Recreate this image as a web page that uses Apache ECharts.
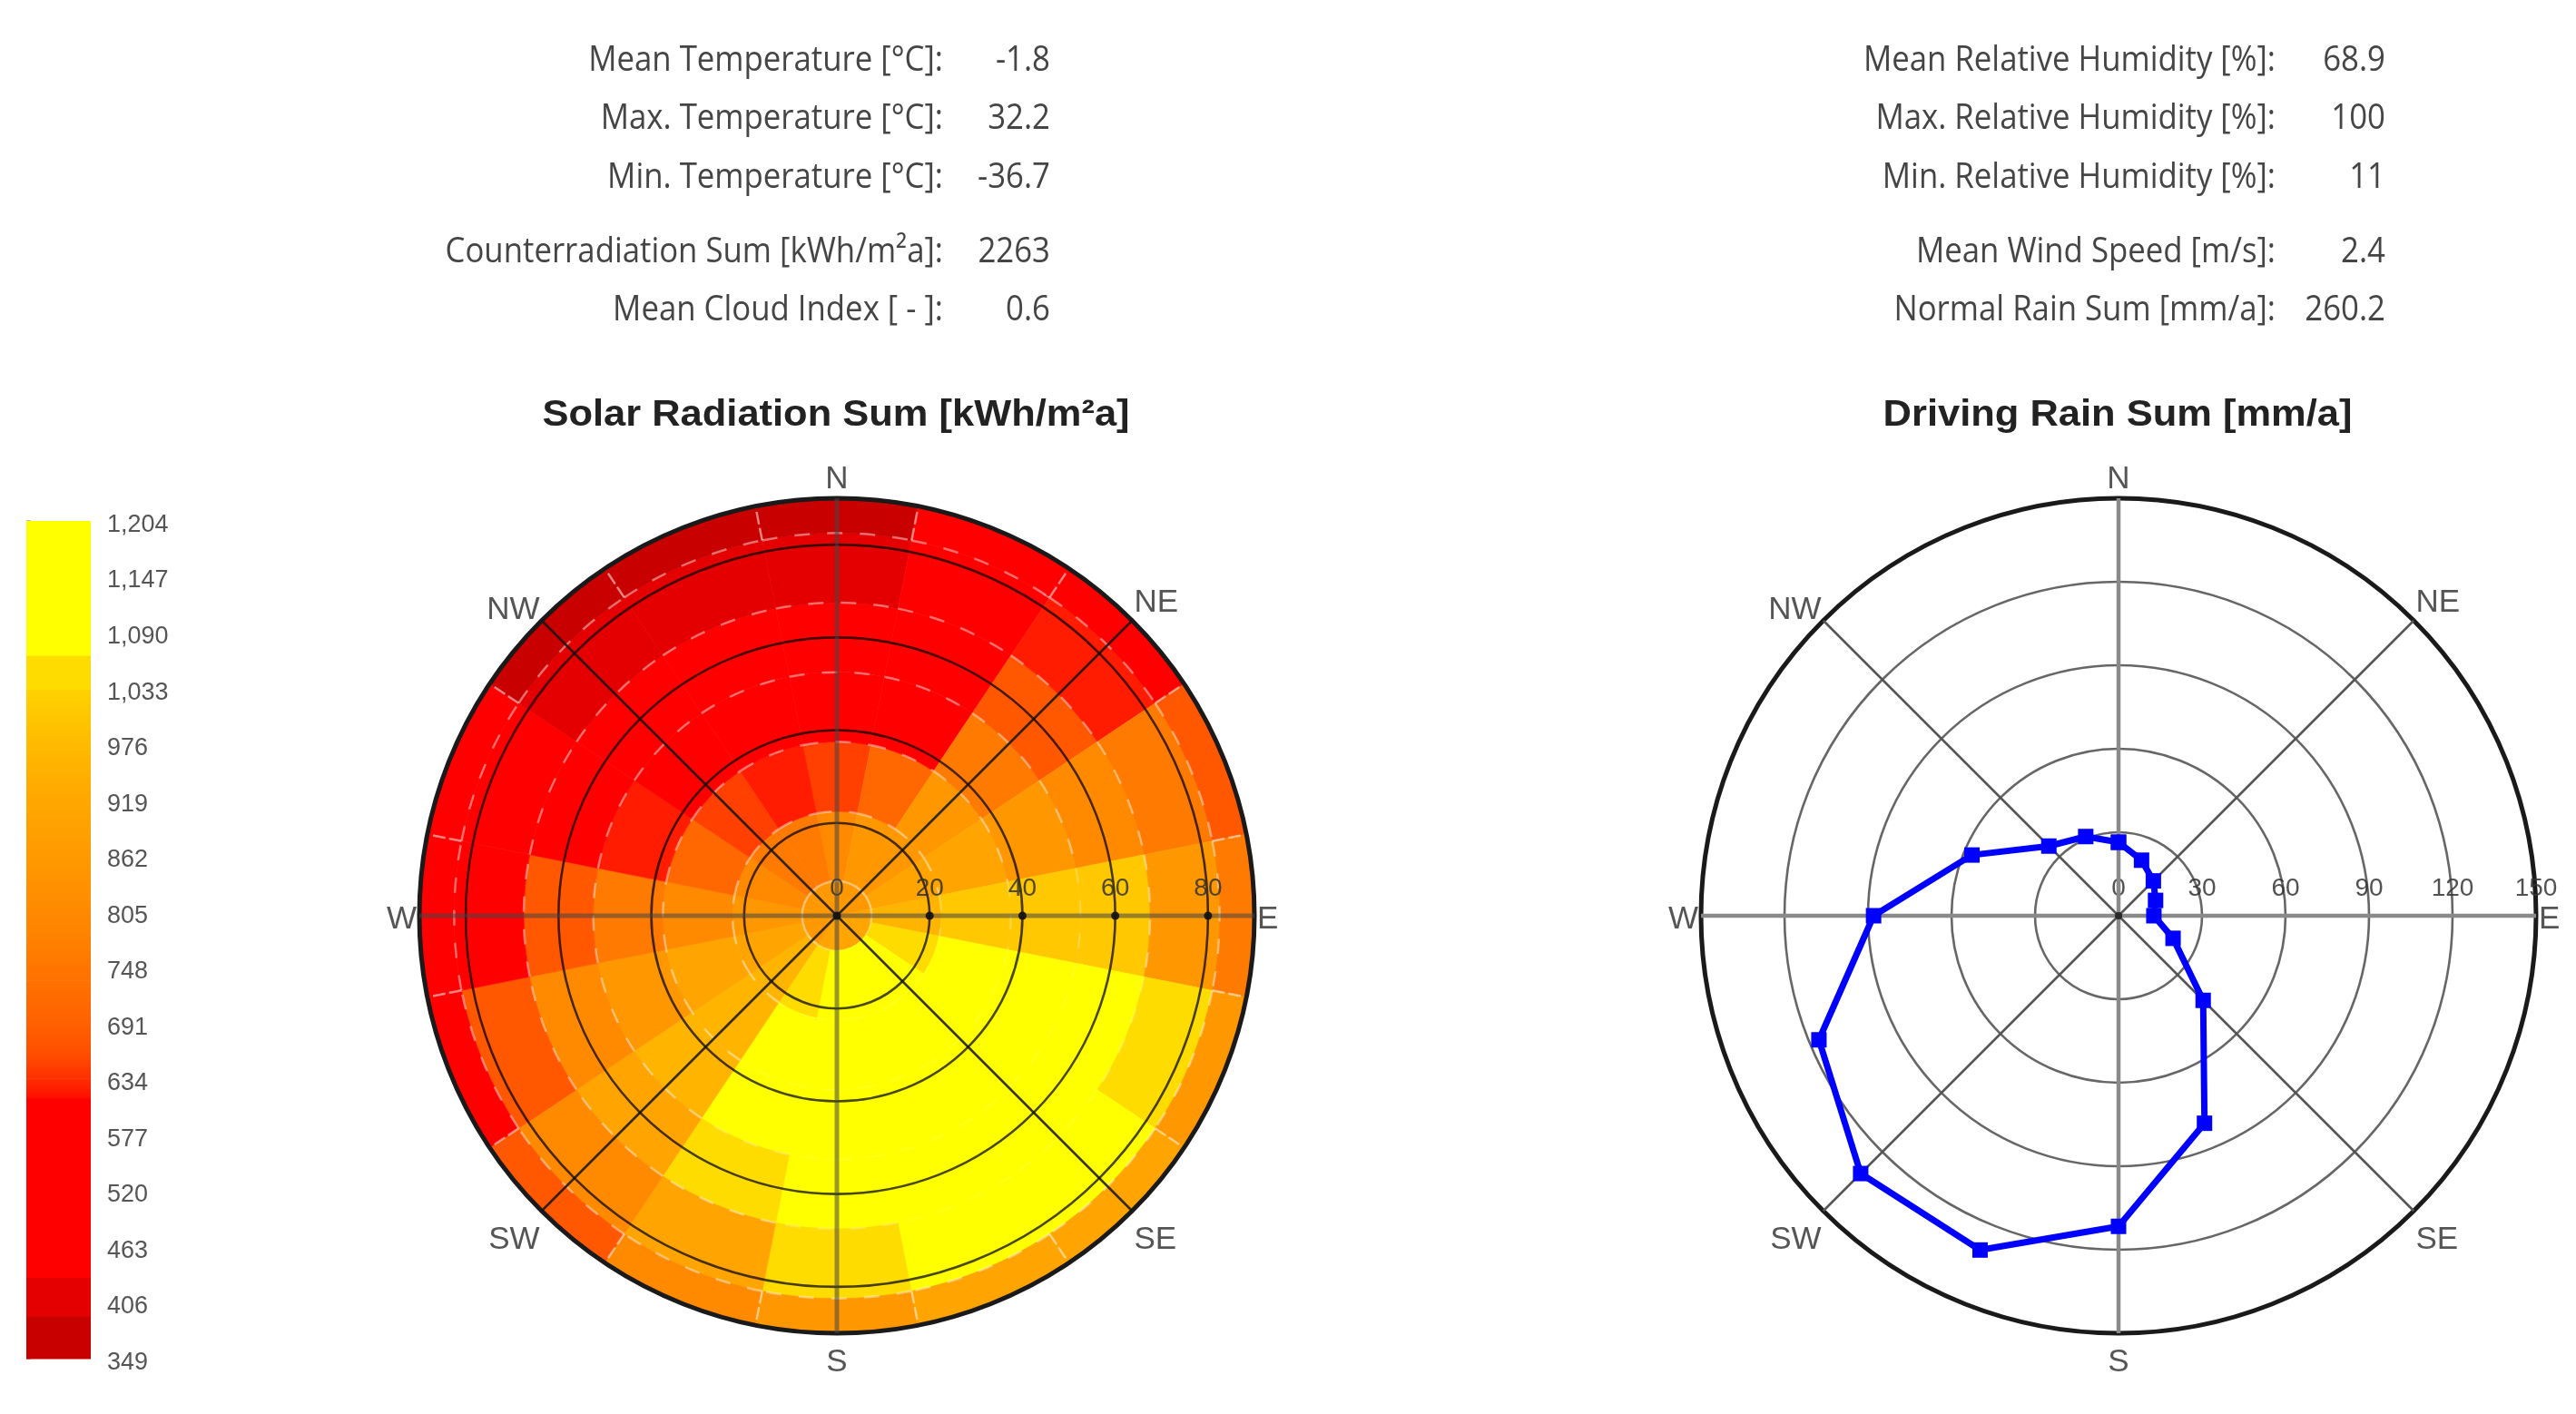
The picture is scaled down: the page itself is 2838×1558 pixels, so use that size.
<!DOCTYPE html>
<html><head><meta charset="utf-8">
<style>html,body{margin:0;padding:0;background:#fff}#c{width:2838px;height:1558px}</style>
<script src="https://cdn.jsdelivr.net/npm/echarts@6/dist/echarts.min.js"></script>
</head><body><div id="c"></div>
<script>
// ---- text tables
const statLabelsLeft = ['Mean Temperature [°C]:','Max. Temperature [°C]:','Min. Temperature [°C]:','Counterradiation Sum [kWh/m²a]:','Mean Cloud Index [ - ]:'];
const statValuesLeft = ['-1.8','32.2','-36.7','2263','0.6'];
const statLabelsRight = ['Mean Relative Humidity [%]:','Max. Relative Humidity [%]:','Min. Relative Humidity [%]:','Mean Wind Speed [m/s]:','Normal Rain Sum [mm/a]:'];
const statValuesRight = ['68.9','100','11','2.4','260.2'];
const titleSolar = 'Solar Radiation Sum [kWh/m²a]';
const titleRain = 'Driving Rain Sum [mm/a]';
// ---- compass, clockwise from E (ECharts angle 0)
const compass = ['E','SE','S','SW','W','NW','N','NE'];
// ---- colour scale
const scaleTicks = [349,406,463,520,577,634,691,748,805,862,919,976,1033,1090,1147,1204];
const bandLimits = [349,392,432,615,635,658,690,735,780,830,880,935,985,1032,1067,1204];
const bandColors = ['#c80000','#e40000','#ff0000','#ff1c00','#ff4000','#ff5800','#ff6800','#ff7a00','#ff8a00','#ff9800','#ffa400','#ffb400','#ffc800','#ffdc00','#ffff00'];
// ---- solar radiation per zenith ring (kWh/m²a), 16 sectors clockwise from N
const ringLimits = [0,7.5,22.5,37.5,52.5,67.5,82.5,90];
const solarRing1 = [850,850,860,870,890,900,900,890,880,880,870,860,850,850,850,850];
const solarRing2 = [790,830,860,920,950,1040,1100,1100,1100,1040,960,910,850,790,760,750];
const solarRing3 = [640,710,830,920,1020,1100,1100,1100,1100,1100,970,880,790,700,650,625];
const solarRing4 = [500,500,750,870,1030,1100,1100,1100,1100,1100,960,850,740,625,500,500];
const solarRing5 = [500,500,670,820,1000,1100,1100,1100,1100,1040,920,790,665,500,500,500];
const solarRing6 = [410,500,620,760,860,1040,1100,1100,1040,920,820,670,500,500,410,400];
const solarRing7 = [370,500,500,670,760,860,900,900,850,800,670,500,500,440,385,370];
const solarRings = [solarRing1,solarRing2,solarRing3,solarRing4,solarRing5,solarRing6,solarRing7];
// ---- driving rain (mm/a), 16 sectors clockwise from N
const rainValues = [26.4,21.6,17.7,14.4,12.7,21.2,43,80.7,111.6,130,131,116.5,88,57,35.4,30.8];
const sectorStep = 22.5;

const toAxis = az => (az - 90 + 720) % 360;
const heatData = [];
solarRings.forEach((ring,k) => ring.forEach((v,i) => {
  const a0 = toAxis(i*sectorStep - sectorStep/2);
  heatData.push([ringLimits[k], ringLimits[k+1], a0, a0+sectorStep, v]);
}));
const rainData = rainValues.concat(rainValues[0]).map((v,i) => [v, toAxis(i*sectorStep)]);
const spoke = (rmax, angles) => angles.flatMap(a => [[rmax,a],[0,a]]);

const heatItem = (params, api) => {
  const a = api.coord([api.value(0), api.value(2)]);
  const b = api.coord([api.value(1), api.value(3)]);
  const cs = params.coordSys;
  return {type:'sector',
    shape:{cx:cs.cx, cy:cs.cy, r0:a[2], r:b[2], startAngle:-a[3], endAngle:-b[3], clockwise:true},
    style:{fill:api.visual('color'), stroke:api.visual('color'), lineWidth:0.6}};
};
const ringDashItem = (params, api) => {
  const a = api.coord([api.value(0), api.value(2)]);
  const b = api.coord([api.value(0), api.value(3)]);
  const cs = params.coordSys;
  const v = api.value(4);
  const alpha = v >= 1067 ? 0.08 : (v >= 985 ? 0.22 : 0.42);
  return {type:'arc', shape:{cx:cs.cx, cy:cs.cy, r:a[2], startAngle:-a[3], endAngle:-b[3], clockwise:true},
    style:{fill:null, stroke:'rgba(255,255,255,'+alpha+')', lineWidth:2.5, lineDash:[17,19]}};
};
const edgeDashItem = (params, api) => {
  const a = api.coord([ringLimits[6], api.value(0)]);
  const b = api.coord([ringLimits[7], api.value(0)]);
  return {type:'line', shape:{x1:a[0],y1:a[1],x2:b[0],y2:b[1]},
    style:{stroke:'rgba(255,255,255,0.5)', lineWidth:2.5, lineDash:[14,4]}};
};
const mix = (p,q) => echarts.color.lerp(0.5,[p,q]);
const bandItem = (params, api) => {
  const i = params.dataIndex;
  const a = api.coord([0, api.value(1)]);
  const b = api.coord([1, api.value(0)]);
  const fade = i >= 3 && i <= 12;
  const fill = fade ? new echarts.graphic.LinearGradient(0,1,0,0,[
      {offset:0,color:mix(bandColors[i-1],bandColors[i])},
      {offset:1,color:mix(bandColors[i],bandColors[i+1])}]) : bandColors[i];
  return {type:'rect', shape:{x:a[0], y:a[1], width:b[0]-a[0], height:b[1]-a[1]+0.5}, style:{fill}};
};

const compassRich = {
  n:{padding:[0,0,0,0]},
  s:{padding:[12,0,0,0]},
  m:{padding:[8,0,0,0]},
  nw:{padding:[0,0,-8,0]}
};
const compassStyle = {E:'m',W:'m',N:'n',NE:'n',NW:'nw',SE:'s',SW:'s',S:'s'};
const angleAxisFor = (idx) => ({
  polarIndex:idx, type:'value', min:0, max:360, interval:45, startAngle:0, clockwise:true, z:8,
  axisLine:{show:true, lineStyle:{color:'#1a1a1a', width:5}},
  axisTick:{show:false},
  splitLine:{show:false},
  axisLabel:{show:true, margin:3, color:'#555', fontFamily:'Liberation Sans', fontSize:35,
    formatter:v => { const t = compass[Math.round(v/45)%8]; return '{'+compassStyle[t]+'|'+t+'}'; },
    rich:compassRich}
});
const radiusAxisFor = (idx,max,interval,ringColor,showMax) => ({
  polarIndex:idx, type:'value', min:0, max, interval, z:8,
  axisLine:{show:false}, axisTick:{show:false},
  splitLine:{show:true, lineStyle:{color:ringColor, width:2.6}},
  axisLabel:{show:true, inside:true, margin:16, showMaxLabel:showMax, color:'rgba(50,50,50,0.85)', fontFamily:'Liberation Sans', fontSize:28,
    formatter:v => (v===max && !showMax) ? '' : String(v)}
});
const spokeSeries = (idx,max,angles,color,width) => ({
  type:'line', coordinateSystem:'polar', polarIndex:idx, z:9, silent:true, animation:false,
  symbol:'none', data:spoke(max,angles), lineStyle:{color,width,cap:'butt'}
});

const textEls = [];
const addStats = (labels, values, xl, xv) => {
  const rows = [67,131,196,278,342];
  labels.forEach((t,i) => {
    textEls.push({type:'text', x:xl, y:rows[i], scaleX:0.915, style:{text:t, textAlign:'right', textVerticalAlign:'middle', font:'38px "Open Sans"', fill:'#454545'}});
    textEls.push({type:'text', x:xv, y:rows[i], scaleX:0.915, style:{text:values[i], textAlign:'right', textVerticalAlign:'middle', font:'38px "Open Sans"', fill:'#454545'}});
  });
};
addStats(statLabelsLeft, statValuesLeft, 1039, 1157);
addStats(statLabelsRight, statValuesRight, 2507, 2628);
const addTitle = (t,x) => textEls.push({type:'text', x, y:458, scaleX:1.06, style:{text:t, textAlign:'center', textVerticalAlign:'middle', font:'bold 41px "Liberation Sans"', fill:'#222'}});
addTitle(titleSolar, 921);
addTitle(titleRain, 2333);

const pieces = bandColors.map((c,i) => ({gte:bandLimits[i], lt:bandLimits[i+1], color:c}));

const option = {
  backgroundColor:'#fff', animation:false,
  polar:[{center:[922,1009], radius:[0,460]},{center:[2334,1009], radius:[0,460]}],
  angleAxis:[angleAxisFor(0), angleAxisFor(1)],
  radiusAxis:[radiusAxisFor(0,90,20,'rgba(0,0,0,0.72)',false), radiusAxisFor(1,150,30,'#666',true)],
  grid:[{left:29, width:71, top:574, height:923}],
  xAxis:[{type:'value', min:0, max:1, show:false}],
  yAxis:[{type:'value', position:'right', min:349, max:1204, splitLine:{show:false},
    axisLine:{show:false},
    axisTick:{show:true, length:5, customValues:scaleTicks, lineStyle:{color:'#bbb', width:2}},
    axisLabel:{customValues:scaleTicks, margin:18, color:'#555', fontFamily:'Liberation Sans', fontSize:27,
      formatter:v => '{t|'+v.toLocaleString('en-US')+'}', rich:{t:{padding:[9,0,0,0]}}}}],
  visualMap:[{type:'piecewise', show:false, dimension:4, seriesIndex:0, pieces}],
  graphic:textEls,
  series:[
    {type:'custom', coordinateSystem:'polar', polarIndex:0, z:2, silent:true, renderItem:heatItem,
     encode:{radius:0, angle:2}, data:heatData},
    {type:'custom', coordinateSystem:'polar', polarIndex:0, z:3, silent:true, renderItem:ringDashItem,
     encode:{radius:0, angle:2}, data:heatData.filter(d => d[0] > 0)},
    {type:'custom', coordinateSystem:'polar', polarIndex:0, z:3, silent:true, renderItem:edgeDashItem,
     encode:{angle:0}, data:solarRing7.map((v,i)=>[toAxis(i*sectorStep - sectorStep/2)])},
    spokeSeries(0,90,[45,135,225,315],'rgba(20,20,20,0.85)',2.6),
    spokeSeries(0,90,[0,90,180,270],'rgba(70,70,70,0.55)',5),
    {type:'scatter', coordinateSystem:'polar', polarIndex:0, z:10, symbol:'circle', symbolSize:9, silent:true,
     itemStyle:{color:'#111', opacity:0.9}, data:[0,20,40,60,80].map(r => [r,0])},
    spokeSeries(1,150,[45,135,225,315],'#555',2.6),
    spokeSeries(1,150,[0,90,180,270],'#8a8a8a',4.5),
    {type:'scatter', coordinateSystem:'polar', polarIndex:1, z:10, symbol:'circle', symbolSize:8, silent:true,
     itemStyle:{color:'#111'}, data:[[0,0]]},
    {type:'line', coordinateSystem:'polar', polarIndex:1, z:12, symbol:'rect', symbolSize:17, showAllSymbol:true, silent:true,
     lineStyle:{color:'#0000ff', width:7}, itemStyle:{color:'#0000ff'}, data:rainData},
    {type:'custom', xAxisIndex:0, yAxisIndex:0, coordinateSystem:'cartesian2d', silent:true, renderItem:bandItem,
     encode:{y:[0,1]}, data:bandColors.map((c,i) => [bandLimits[i], bandLimits[i+1]])}
  ]
};
const chart = echarts.init(document.getElementById('c'), null, {renderer:'canvas'});
chart.setOption(option);
</script></body></html>
